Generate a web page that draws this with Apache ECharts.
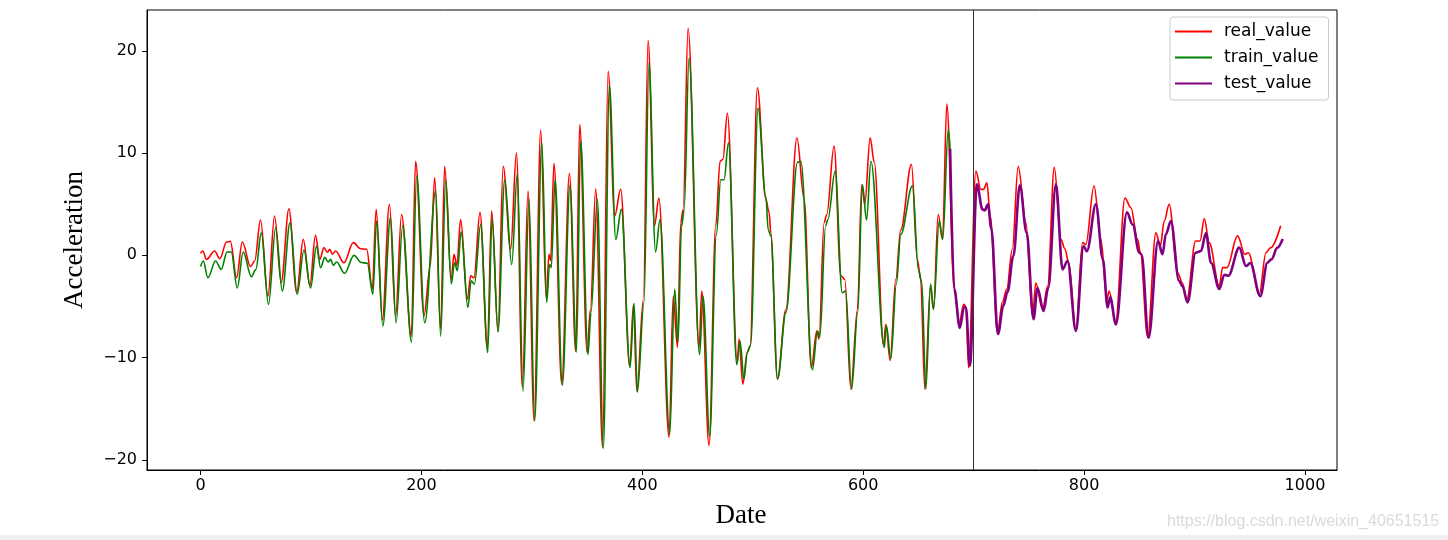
<!DOCTYPE html>
<html>
<head>
<meta charset="utf-8">
<script src="https://cdn.jsdelivr.net/npm/echarts@6/dist/echarts.min.js"></script>
<style>
html,body{margin:0;padding:0;background:#fff;}
#chart{width:1448px;height:540px;}
</style>
</head>
<body>
<div id="chart"></div>
<script>
// ---- data (x = Date index, y = Acceleration) ----
const xTicks = [0, 200, 400, 600, 800, 1000];
const yTicks = [-20, -10, 0, 10, 20];
const splitX = 700;
const seriesNames = ['real_value', 'train_value', 'test_value'];

const realValue = [[0,0.2],[2,0.42],[5.4,-0.4],[12.7,0.42],[17.5,-0.33],[23.5,1.3],[27,1.37],[32.6,-2.18],[37.8,1.3],[45.3,-1.1],[49,-0.55],[54.3,3.45],[61,-4.0],[67,3.85],[73,-2.67],[80,4.56],[87,-3.65],[93,1.56],[99,-3.0],[104,1.96],[108,-0.39],[111.7,0.75],[114.7,0.3],[117,0.59],[119.3,0.1],[122.3,0.42],[129.8,-0.72],[138.3,1.24],[145,0.65],[150.4,0.59],[155.5,-3.3],[159,4.5],[164.6,-6.3],[171,5.0],[176.6,-5.9],[182,4.0],[190.8,-7.9],[194.7,9.2],[202.3,-5.9],[208,-1.0],[212,7.6],[217.4,-7.2],[221,8.7],[227,-2.35],[229.5,0.1],[232,-1.0],[235.5,3.5],[241.6,-4.3],[244.6,-2.0],[247.6,-2.2],[253,4.2],[259.7,-9.0],[263.6,4.35],[269.3,-7.4],[274,8.7],[280.8,0.6],[286,10.0],[291.4,-12.9],[296.5,6.3],[302,-16.2],[308,12.25],[313,-4.2],[315.5,0.1],[317,-0.5],[320,9.0],[327,-12.6],[334,8.0],[339.7,-9.4],[343.3,12.8],[350,-9.5],[353,-5.3],[357.8,6.5],[364,-18.8],[369,18.0],[375,3.85],[380.4,6.45],[388.6,-10.8],[392,-4.8],[395,-13.3],[401,-4.3],[405.2,21.0],[411,2.9],[415,5.6],[424.2,-17.8],[428,-4.0],[431.8,-9.0],[434.8,3.2],[437,4.5],[441.4,22.2],[451.4,-9.0],[453.8,-3.5],[460.4,-18.6],[466.5,2.9],[470.4,9.2],[473,9.4],[477,13.9],[486,-10.5],[487.6,-8.2],[491,-12.6],[495,-9.5],[497.5,-8.9],[504.2,16.4],[511.8,5.5],[514.8,4.2],[516.3,2.2],[522.3,-12.1],[530,-5.3],[540,11.5],[546.5,5.5],[553,-11.0],[558,-7.4],[560,-8.2],[564.6,3.2],[567,4.0],[573.6,10.7],[579.7,-2.0],[583.3,-2.35],[588.8,-13.1],[594.8,-5.3],[598.7,6.9],[601.4,5.0],[606.3,11.5],[610,9.1],[618.4,-8.7],[620.5,-6.75],[624.4,-10.3],[629.5,-2.35],[634,2.5],[643.7,8.9],[649,-0.4],[652,-2.35],[655.8,-13.1],[661,-3.0],[663.7,-5.3],[667.9,4.0],[671.8,1.56],[675.7,14.8],[682.4,-3.3],[687,-6.6],[691,-4.8],[693,-5.0],[695.4,-11.0],[702,8.25],[706.5,6.45],[709,6.45],[712,7.1],[715,3.85],[721.6,-7.6],[726,-4.6],[730,-3.3],[735,0.6],[740.3,8.7],[747.3,3.2],[753.3,-5.9],[756.3,-2.7],[762.4,-5.3],[767,-3.0],[773,8.6],[779,1.56],[782.6,0.65],[786,-0.7],[792.6,-7.2],[798.6,1.24],[801.6,1.07],[809,6.8],[815.2,1.56],[820.7,-4.3],[822.7,-3.5],[828.5,-6.6],[837,5.6],[842.4,4.66],[848.4,1.56],[851,0.26],[857.5,-8.0],[865,2.2],[869,0.9],[872.6,3.35],[877,5.0],[884.7,-1.7],[889,-2.7],[893,-4.3],[901,1.4],[905,1.4],[908.8,3.6],[913.3,1.24],[922.4,-3.0],[925.4,-1.2],[929.3,-1.2],[939,1.9],[945.6,0.1],[948.7,0.26],[958.6,-3.8],[964.7,0.26],[969,0.75],[978,2.9]];

const trainValue = [[0,-1.1],[2.5,-0.55],[6.6,-2.2],[13.6,-0.55],[18.7,-1.37],[24,0.33],[27.8,0.33],[33.2,-3.2],[38.6,0.33],[46,-2.1],[50,-1.4],[55,2.2],[61.5,-4.8],[68,2.7],[74,-3.5],[81,3.2],[87.5,-3.8],[93.6,0.52],[99.6,-3.2],[105,0.9],[108.7,-1.2],[112.5,-0.2],[115.5,-0.65],[117.8,-0.4],[120.2,-0.98],[123.2,-0.65],[130.4,-1.76],[138.9,0],[145.5,-0.7],[151,-0.78],[156,-3.8],[159.4,3.35],[165,-6.9],[172,3.7],[177,-6.6],[183,2.9],[191,-8.5],[195.7,7.75],[203,-6.6],[212.9,6.3],[217.4,-7.9],[222,7.4],[227,-2.8],[230,-0.7],[232.5,-1.5],[236,2.3],[242,-5.1],[245,-2.5],[248,-2.8],[253.6,3.0],[260,-9.5],[264,3.6],[269.3,-7.5],[275.4,7.4],[281.7,-0.9],[286.8,8.0],[292,-13.3],[297.4,5.5],[302.5,-16.2],[309,11.0],[313.4,-4.6],[316,-0.9],[317.5,-1.2],[321,7.4],[327.6,-12.7],[334.5,6.85],[340.3,-9.45],[344.2,11.2],[350.8,-9.7],[353.5,-5.6],[359.3,5.5],[364.7,-18.9],[370.2,16.6],[376,1.56],[381,4.5],[388.9,-11.0],[392.5,-4.7],[395.5,-13.4],[401.5,-4.6],[406,18.8],[412,0.33],[416,3.5],[424.8,-17.5],[429.3,-3.3],[432.3,-8.5],[435.5,2.8],[437.8,4.4],[442.3,19.3],[451.8,-9.7],[455,-4.0],[461,-17.7],[467,2.0],[471,7.4],[474,7.4],[478,11.0],[485.5,-10.7],[488.5,-8.4],[492,-12.1],[495,-9.5],[498,-8.8],[504.8,14.4],[511.8,5.8],[514,2.5],[516.3,1.9],[522.5,-12.1],[530,-5.6],[540.5,9.1],[543.5,9.2],[554,-11.2],[558.6,-7.4],[560.7,-8.0],[566,2.9],[568,3.5],[574.6,8.25],[581,-3.65],[584,-3.5],[589.5,-13.1],[595,-5.6],[599.3,6.9],[603,3.45],[607,9.2],[619,-9.0],[621,-6.9],[625,-10.1],[630,-2.8],[634,2.05],[644.6,6.8],[650,-1.4],[653,-2.6],[656.7,-13.1],[661,-2.8],[663.6,-5.3],[668.8,3.35],[672,1.56],[677,12.3],[678.7,10.4]];

const testValue = [[678.7,10.4],[682.4,-3.3],[687.5,-7.1],[691.4,-5.0],[693,-5.1],[696.6,-10.8],[702.9,6.95],[708,4.5],[710,4.4],[713,5.0],[716,2.6],[722,-7.7],[727,-4.9],[730.6,-3.6],[736,-0.06],[741.8,6.85],[748,2.2],[754.2,-6.25],[757.8,-3.2],[763.3,-5.45],[767.5,-3.2],[774.5,6.95],[780.5,-1.37],[785,-0.55],[792.6,-7.4],[799.5,0.9],[802.5,0.4],[810.7,5.0],[817,-0.4],[821.3,-5.1],[823.6,-4.1],[828.8,-6.75],[838.8,4.2],[844,3.0],[850,0.26],[852,0.1],[858.4,-8.05],[867,1.4],[871,0.1],[874,2.05],[878.6,3.35],[886,-2.5],[889,-3.0],[893.7,-4.6],[901,0.26],[905.8,0.42],[910.3,2.15],[915,-0.75],[922.4,-3.3],[927,-1.9],[930.6,-2.0],[940.5,0.75],[946.6,-1.05],[950.5,-0.75],[959.5,-4.0],[966,-0.72],[969.6,-0.4],[975,0.75],[979.8,1.6]];

// ---- chart ----
const chart = echarts.init(document.getElementById('chart'), null, {renderer: 'canvas'});
const tickFont = 'DejaVu Sans';
const minusFmt = v => String(v).replace('-', '\u2212');

const option = {
  animation: false,
  backgroundColor: '#fff',
  grid: {left: 147, right: 111, top: 10, bottom: 70, show: true, borderColor: '#000', borderWidth: 1, outerBoundsMode: 'none', containLabel: false},
  xAxis: {
    type: 'value', min: -48.5, max: 1029,
    splitLine: {show: false},
    axisLine: {show: true, onZero: false, lineStyle: {color: '#000', width: 1}},
    axisTick: {show: true, length: 5, customValues: xTicks, lineStyle: {color: '#000'}},
    axisLabel: {show: true, customValues: xTicks, margin: 8, color: '#000', fontFamily: tickFont, fontSize: 16, formatter: minusFmt, showMinLabel: true, showMaxLabel: true}
  },
  yAxis: {
    type: 'value', min: -21, max: 24,
    splitLine: {show: false},
    axisLine: {show: true, onZero: false, lineStyle: {color: '#000', width: 1}},
    axisTick: {show: true, length: 5, customValues: yTicks, lineStyle: {color: '#000'}},
    axisLabel: {show: true, customValues: yTicks, margin: 10, color: '#000', fontFamily: tickFont, fontSize: 16, formatter: minusFmt}
  },
  legend: {
    orient: 'vertical', left: 1170, top: 17,
    padding: [6, 10, 8, 5], itemGap: 9,
    backgroundColor: '#fff', borderColor: '#ccc', borderWidth: 1, borderRadius: 3,
    icon: 'rect', itemWidth: 37, itemHeight: 2,
    textStyle: {fontFamily: tickFont, fontSize: 17, color: '#000', padding: [0, 0, 0, 7]},
    data: seriesNames
  },
  series: [
    {
      name: seriesNames[0], type: 'line', data: realValue, showSymbol: false, symbol: 'none',
      smooth: 0.35, smoothMonotone: 'x',
      lineStyle: {color: '#ff0000', width: 1.6}, itemStyle: {color: '#ff0000'},
      markLine: {silent: true, symbol: ['none', 'none'], label: {show: false},
        lineStyle: {color: '#333', width: 1, type: 'solid'}, data: [{xAxis: splitX}]},
      z: 2
    },
    {
      name: seriesNames[1], type: 'line', data: trainValue, showSymbol: false, symbol: 'none',
      smooth: 0.35, smoothMonotone: 'x',
      lineStyle: {color: '#008000', width: 1.6}, itemStyle: {color: '#008000'}, z: 3
    },
    {
      name: seriesNames[2], type: 'line', data: testValue, showSymbol: false, symbol: 'none',
      smooth: 0.35, smoothMonotone: 'x',
      lineStyle: {color: '#800080', width: 2.6}, itemStyle: {color: '#800080'}, z: 4
    }
  ],
  graphic: [
    {type: 'text', x: 741, y: 516, style: {text: 'Date', font: '27px "Liberation Serif"', fill: '#000', textAlign: 'center', textVerticalAlign: 'middle'}},
    {type: 'text', x: 75, y: 240, rotation: Math.PI / 2, style: {text: 'Acceleration', font: '27px "Liberation Serif"', fill: '#000', textAlign: 'center', textVerticalAlign: 'middle'}},
    {type: 'text', x: 1167, y: 522, style: {text: 'https://blog.csdn.net/weixin_40651515', font: '16px "Liberation Sans"', fill: '#dadada', textAlign: 'left', textVerticalAlign: 'middle'}},
    {type: 'rect', shape: {x: 0, y: 535, width: 1448, height: 5}, style: {fill: '#f0f0f0'}}
  ]
};
chart.setOption(option);
</script>
</body>
</html>
